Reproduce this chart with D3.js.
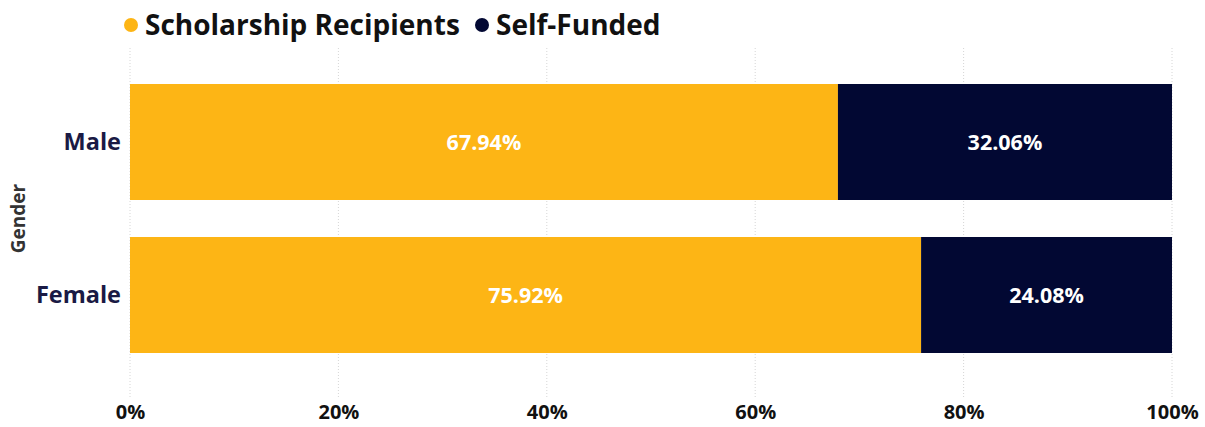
<!DOCTYPE html>
<html lang="en">
<head>
  <meta charset="UTF-8">
  <title>scholarship-by-gender</title>
  <script src="https://cdn.jsdelivr.net/npm/d3@7"></script>
  <style>
    body { margin: 0; background: #fff; }
    text { font-family: "Segoe UI", "Open Sans", sans-serif; font-weight: 700; }
  </style>
</head>
<body>
<script>
let width = 1205;
let height = 427;

let genders = ['Male', 'Female'];
let scholarship = [67.94, 75.92];
let selfFunded = [32.06, 24.08];
let seriesNames = ['Scholarship Recipients', 'Self-Funded'];
let seriesColors = ['#FDB515', '#020833'];
let xTicks = [0, 20, 40, 60, 80, 100];

let plotLeft = 130, plotRight = 1172, plotTop = 84, plotBottom = 353;

let svg = d3.select('body')
  .append('svg')
  .attr('width', width)
  .attr('height', height);

let x = d3.scaleLinear()
  .domain([0, 100])
  .range([plotLeft, plotRight]);

let y = d3.scaleBand()
  .domain(genders)
  .range([plotTop, plotBottom])
  .paddingInner(37 / 153)
  .paddingOuter(0);

// dotted grid
svg.append('g')
  .selectAll('line')
  .data(xTicks)
  .enter()
  .append('line')
  .attr('x1', d => x(d))
  .attr('x2', d => x(d))
  .attr('y1', 48)
  .attr('y2', 397)
  .attr('stroke', '#d6d6d6')
  .attr('stroke-dasharray', '1,2');

let xAxis = d3.axisBottom(x)
  .tickValues(xTicks)
  .tickSize(0)
  .tickPadding(0)
  .tickFormat(d => d + '%');

svg.append('g')
  .attr('transform', 'translate(0,405)')
  .call(xAxis)
  .call(g => g.select('.domain').remove())
  .selectAll('text')
  .attr('font-size', 20)
  .attr('fill', '#111')
  .attr('dy', '0.71em');

let rows = genders.map((g, i) => ({
  gender: g,
  parts: [
    { s: 0, x0: 0, x1: scholarship[i], v: scholarship[i] },
    { s: 1, x0: scholarship[i], x1: scholarship[i] + selfFunded[i], v: selfFunded[i] }
  ]
}));

let bh = y.bandwidth();

let row = svg.append('g')
  .selectAll('g')
  .data(rows)
  .enter()
  .append('g')
  .attr('transform', d => 'translate(0,' + y(d.gender) + ')');

row.selectAll('rect')
  .data(d => d.parts)
  .enter()
  .append('rect')
  .attr('x', d => x(d.x0))
  .attr('width', d => x(d.x1) - x(d.x0))
  .attr('height', bh)
  .attr('fill', d => seriesColors[d.s]);

row.selectAll('text')
  .data(d => d.parts)
  .enter()
  .append('text')
  .attr('x', d => (x(d.x0) + x(d.x1)) / 2)
  .attr('y', bh / 2)
  .attr('dy', '0.35em')
  .attr('text-anchor', 'middle')
  .attr('font-size', 21.5)
  .attr('fill', '#fff')
  .text(d => d.v.toFixed(2) + '%');

// category labels
svg.append('g')
  .selectAll('text')
  .data(genders)
  .enter()
  .append('text')
  .attr('x', 121)
  .attr('y', d => y(d) + y.bandwidth() / 2)
  .attr('dy', '0.35em')
  .attr('text-anchor', 'end')
  .attr('font-size', 23.5)
  .attr('fill', '#1a1a44')
  .text(d => d);

svg.append('text')
  .attr('transform', 'translate(25,' + ((plotTop + plotBottom) / 2) + ') rotate(-90)')
  .attr('text-anchor', 'middle')
  .attr('font-size', 19)
  .attr('fill', '#333')
  .text('Gender');

// legend
let legend = svg.append('g').attr('transform', 'translate(0,25)');
let lx = [131, 482];
seriesNames.forEach((name, i) => {
  legend.append('circle')
    .attr('cx', lx[i])
    .attr('cy', 0)
    .attr('r', 7)
    .attr('fill', seriesColors[i]);
  legend.append('text')
    .attr('x', lx[i] + 14)
    .attr('y', 0)
    .attr('dy', '0.35em')
    .attr('font-size', 28)
    .attr('fill', '#111')
    .text(name);
});
</script>
</body>
</html>
